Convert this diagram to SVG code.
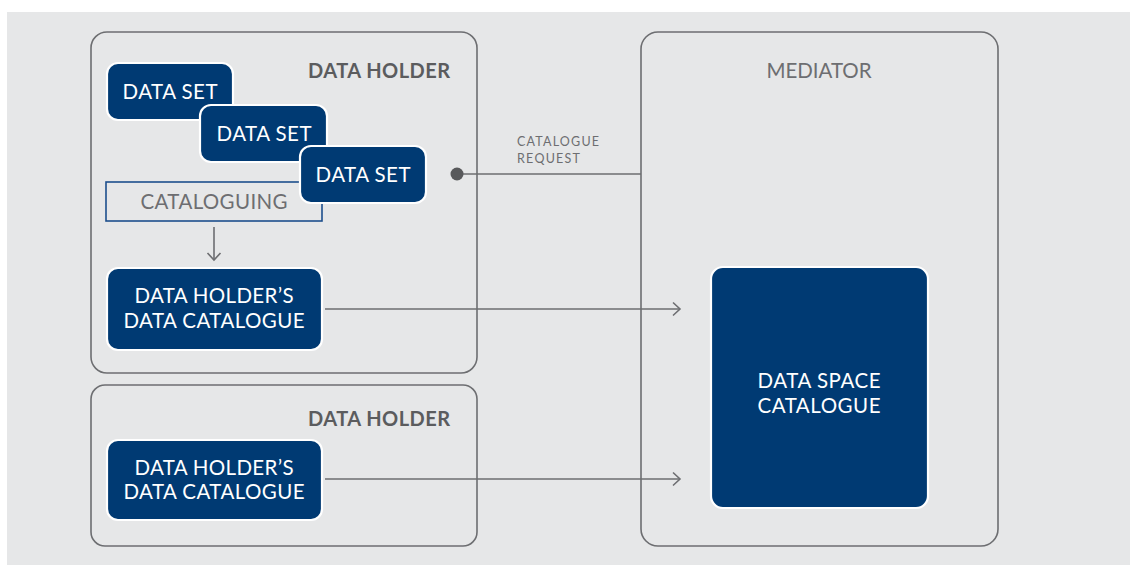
<svg xmlns="http://www.w3.org/2000/svg" width="1130" height="565" viewBox="0 0 1130 565">
  <defs>
    <marker id="open-arrow" markerWidth="12" markerHeight="16" refX="9" refY="8" orient="auto" markerUnits="userSpaceOnUse">
      <path d="M2,1.5 L9,8 L2,14.5" fill="none" stroke="#6d6e71" stroke-width="1.6"/>
    </marker>
    <style>
      .frame { fill: none; stroke: #6d6e71; stroke-width: 1.6; }
      .dark { fill: #003a73; stroke: #ffffff; stroke-width: 2.2; }
      .wire { fill: none; stroke: #6d6e71; stroke-width: 1.6; }
      .head { font-family: Lato, "Noto Sans", sans-serif; font-size: 20px; font-weight: 700; fill: #5b5c5e; }
      .title { font-family: Lato, "Noto Sans", sans-serif; font-size: 20.5px; fill: #6d6e71; }
      .inv { font-family: Lato, "Noto Sans", sans-serif; font-size: 20.5px; fill: #ffffff; text-anchor: middle; }
      .small { font-family: Lato, "Noto Sans", sans-serif; font-size: 12.5px; fill: #6d6e71; }
    </style>
  </defs>

  <!-- backdrop -->
  <rect x="7" y="12" width="1123" height="553" fill="#e6e7e8"/>

  <!-- upper data holder -->
  <g id="data-holder-1">
    <rect class="frame" x="91" y="32" width="386" height="341" rx="16"/>
    <text class="head" x="450" y="78" text-anchor="end" textLength="142">DATA HOLDER</text>
  </g>

  <g id="cataloguing">
    <rect x="106" y="182" width="216" height="39" fill="none" stroke="#1d4f8c" stroke-width="1.6"/>
    <text class="title" x="214" y="209" text-anchor="middle" textLength="147">CATALOGUING</text>
  </g>

  <g id="data-set-1">
    <rect class="dark" x="107" y="63" width="126" height="57" rx="11"/>
    <text class="inv" x="170" y="99" textLength="95">DATA SET</text>
  </g>
  <g id="data-set-2">
    <rect class="dark" x="200" y="105" width="127" height="57" rx="11"/>
    <text class="inv" x="264" y="141" textLength="95">DATA SET</text>
  </g>
  <g id="data-set-3">
    <rect class="dark" x="300" y="146" width="126" height="57" rx="11"/>
    <text class="inv" x="363" y="182" textLength="95">DATA SET</text>
  </g>

  <g id="holder-catalogue-1">
    <rect class="dark" x="107" y="268" width="215" height="82" rx="11"/>
    <text class="inv" x="214" y="303" textLength="159">DATA HOLDER’S</text>
    <text class="inv" x="214" y="328" textLength="181">DATA CATALOGUE</text>
  </g>

  <!-- lower data holder -->
  <g id="data-holder-2">
    <rect class="frame" x="91" y="385" width="386" height="161" rx="14"/>
    <text class="head" x="450" y="426" text-anchor="end" textLength="142">DATA HOLDER</text>
  </g>
  <g id="holder-catalogue-2">
    <rect class="dark" x="107" y="440" width="215" height="80" rx="11"/>
    <text class="inv" x="214" y="475" textLength="159">DATA HOLDER’S</text>
    <text class="inv" x="214" y="499" textLength="181">DATA CATALOGUE</text>
  </g>

  <!-- mediator -->
  <g id="mediator">
    <rect class="frame" x="641" y="32" width="357" height="514" rx="17"/>
    <text class="title" x="819" y="78" text-anchor="middle" textLength="105">MEDIATOR</text>
  </g>
  <g id="data-space-catalogue">
    <rect class="dark" x="711" y="267" width="217" height="241" rx="12"/>
    <text class="inv" x="819" y="388" textLength="123">DATA SPACE</text>
    <text class="inv" x="819" y="413" textLength="123">CATALOGUE</text>
  </g>

  <!-- connectors -->
  <g id="connectors">
    <line class="wire" x1="214" y1="227" x2="214" y2="260" marker-end="url(#open-arrow)"/>
    <line class="wire" x1="457" y1="174" x2="641" y2="174"/>
    <circle cx="457" cy="174" r="6.5" fill="#58595b"/>
    <text class="small" x="517" y="146" textLength="82">CATALOGUE</text>
    <text class="small" x="517" y="163" textLength="63">REQUEST</text>
    <line class="wire" x1="325" y1="309" x2="680" y2="309" marker-end="url(#open-arrow)"/>
    <line class="wire" x1="325" y1="479" x2="680" y2="479" marker-end="url(#open-arrow)"/>
  </g>
</svg>
